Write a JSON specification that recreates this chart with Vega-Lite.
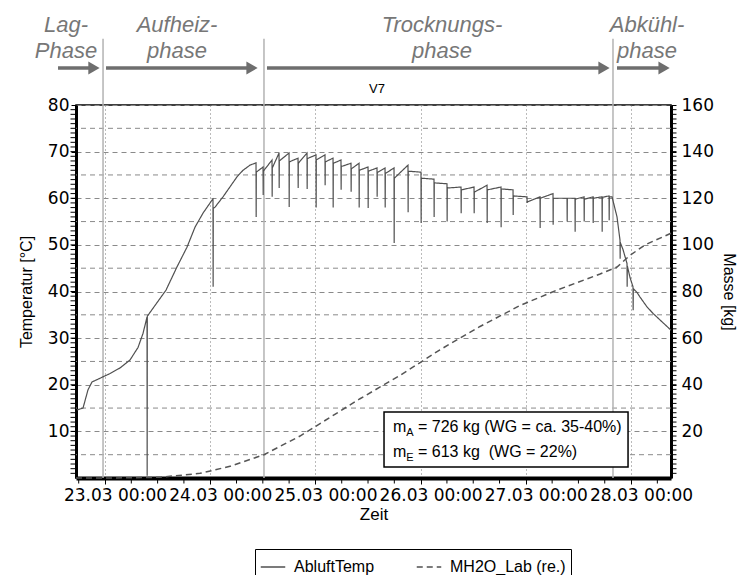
{
  "$schema": "https://vega.github.io/schema/vega-lite/v6.json",
  "width": 595,
  "height": 373,
  "autosize": {"type": "none"},
  "padding": {"left": 76, "top": 105, "right": 70, "bottom": 97},
  "background": "white",
  "datasets": {
    "temp": [
      {"Zeit": "2010-03-22T17:37", "AbluftTemp": 14.6},
      {"Zeit": "2010-03-22T18:59", "AbluftTemp": 15.0},
      {"Zeit": "2010-03-22T20:07", "AbluftTemp": 18.9},
      {"Zeit": "2010-03-22T21:02", "AbluftTemp": 20.6},
      {"Zeit": "2010-03-22T22:52", "AbluftTemp": 21.4},
      {"Zeit": "2010-03-23T01:08", "AbluftTemp": 22.4},
      {"Zeit": "2010-03-23T03:25", "AbluftTemp": 23.6},
      {"Zeit": "2010-03-23T05:42", "AbluftTemp": 25.3},
      {"Zeit": "2010-03-23T07:32", "AbluftTemp": 28.0},
      {"Zeit": "2010-03-23T08:40", "AbluftTemp": 31.0},
      {"Zeit": "2010-03-23T09:35", "AbluftTemp": 34.5},
      {"Zeit": "2010-03-23T09:37", "AbluftTemp": 0.5},
      {"Zeit": "2010-03-23T09:39", "AbluftTemp": 34.7},
      {"Zeit": "2010-03-23T11:24", "AbluftTemp": 37.0},
      {"Zeit": "2010-03-23T13:55", "AbluftTemp": 40.3},
      {"Zeit": "2010-03-23T16:26", "AbluftTemp": 45.3},
      {"Zeit": "2010-03-23T18:42", "AbluftTemp": 49.5},
      {"Zeit": "2010-03-23T20:32", "AbluftTemp": 53.8},
      {"Zeit": "2010-03-23T22:21", "AbluftTemp": 56.8},
      {"Zeit": "2010-03-24T00:25", "AbluftTemp": 59.6},
      {"Zeit": "2010-03-24T00:38", "AbluftTemp": 59.8},
      {"Zeit": "2010-03-24T00:40", "AbluftTemp": 41.0},
      {"Zeit": "2010-03-24T00:42", "AbluftTemp": 57.8},
      {"Zeit": "2010-03-24T01:06", "AbluftTemp": 58.1},
      {"Zeit": "2010-03-24T02:55", "AbluftTemp": 60.3},
      {"Zeit": "2010-03-24T06:07", "AbluftTemp": 64.6},
      {"Zeit": "2010-03-24T07:29", "AbluftTemp": 66.0},
      {"Zeit": "2010-03-24T09:05", "AbluftTemp": 67.1},
      {"Zeit": "2010-03-24T10:27", "AbluftTemp": 67.6},
      {"Zeit": "2010-03-24T10:29", "AbluftTemp": 56.0},
      {"Zeit": "2010-03-24T10:31", "AbluftTemp": 65.6},
      {"Zeit": "2010-03-24T12:03", "AbluftTemp": 66.7},
      {"Zeit": "2010-03-24T12:05", "AbluftTemp": 60.7},
      {"Zeit": "2010-03-24T12:07", "AbluftTemp": 65.8},
      {"Zeit": "2010-03-24T14:06", "AbluftTemp": 68.2},
      {"Zeit": "2010-03-24T14:08", "AbluftTemp": 60.3},
      {"Zeit": "2010-03-24T14:10", "AbluftTemp": 66.5},
      {"Zeit": "2010-03-24T15:42", "AbluftTemp": 69.7},
      {"Zeit": "2010-03-24T15:44", "AbluftTemp": 62.2},
      {"Zeit": "2010-03-24T15:46", "AbluftTemp": 68.0},
      {"Zeit": "2010-03-24T17:59", "AbluftTemp": 69.7},
      {"Zeit": "2010-03-24T18:01", "AbluftTemp": 58.1},
      {"Zeit": "2010-03-24T18:03", "AbluftTemp": 67.8},
      {"Zeit": "2010-03-24T20:02", "AbluftTemp": 68.6},
      {"Zeit": "2010-03-24T20:04", "AbluftTemp": 62.2},
      {"Zeit": "2010-03-24T20:06", "AbluftTemp": 67.5},
      {"Zeit": "2010-03-24T22:05", "AbluftTemp": 69.7},
      {"Zeit": "2010-03-24T22:07", "AbluftTemp": 62.0},
      {"Zeit": "2010-03-24T22:09", "AbluftTemp": 68.5},
      {"Zeit": "2010-03-25T00:08", "AbluftTemp": 69.3},
      {"Zeit": "2010-03-25T00:10", "AbluftTemp": 58.0},
      {"Zeit": "2010-03-25T00:12", "AbluftTemp": 68.2},
      {"Zeit": "2010-03-25T02:11", "AbluftTemp": 69.3},
      {"Zeit": "2010-03-25T02:13", "AbluftTemp": 62.8},
      {"Zeit": "2010-03-25T02:15", "AbluftTemp": 67.8},
      {"Zeit": "2010-03-25T04:01", "AbluftTemp": 68.6},
      {"Zeit": "2010-03-25T04:03", "AbluftTemp": 58.0},
      {"Zeit": "2010-03-25T04:05", "AbluftTemp": 67.5},
      {"Zeit": "2010-03-25T05:50", "AbluftTemp": 68.2},
      {"Zeit": "2010-03-25T05:52", "AbluftTemp": 61.8},
      {"Zeit": "2010-03-25T05:54", "AbluftTemp": 66.8},
      {"Zeit": "2010-03-25T08:07", "AbluftTemp": 67.5},
      {"Zeit": "2010-03-25T08:09", "AbluftTemp": 61.4},
      {"Zeit": "2010-03-25T08:11", "AbluftTemp": 66.3},
      {"Zeit": "2010-03-25T09:57", "AbluftTemp": 67.5},
      {"Zeit": "2010-03-25T09:59", "AbluftTemp": 58.0},
      {"Zeit": "2010-03-25T10:01", "AbluftTemp": 66.0},
      {"Zeit": "2010-03-25T12:00", "AbluftTemp": 66.7},
      {"Zeit": "2010-03-25T12:02", "AbluftTemp": 57.9},
      {"Zeit": "2010-03-25T12:04", "AbluftTemp": 65.8},
      {"Zeit": "2010-03-25T14:03", "AbluftTemp": 66.5},
      {"Zeit": "2010-03-25T14:05", "AbluftTemp": 60.3},
      {"Zeit": "2010-03-25T14:07", "AbluftTemp": 65.5},
      {"Zeit": "2010-03-25T15:53", "AbluftTemp": 66.5},
      {"Zeit": "2010-03-25T15:55", "AbluftTemp": 58.0},
      {"Zeit": "2010-03-25T15:57", "AbluftTemp": 65.3},
      {"Zeit": "2010-03-25T17:56", "AbluftTemp": 66.5},
      {"Zeit": "2010-03-25T17:58", "AbluftTemp": 50.4},
      {"Zeit": "2010-03-25T18:00", "AbluftTemp": 64.3},
      {"Zeit": "2010-03-25T21:07", "AbluftTemp": 67.1},
      {"Zeit": "2010-03-25T21:09", "AbluftTemp": 57.0},
      {"Zeit": "2010-03-25T21:11", "AbluftTemp": 65.8},
      {"Zeit": "2010-03-26T00:05", "AbluftTemp": 65.6},
      {"Zeit": "2010-03-26T00:07", "AbluftTemp": 54.7},
      {"Zeit": "2010-03-26T00:09", "AbluftTemp": 64.3},
      {"Zeit": "2010-03-26T03:03", "AbluftTemp": 64.1},
      {"Zeit": "2010-03-26T03:05", "AbluftTemp": 56.0},
      {"Zeit": "2010-03-26T03:07", "AbluftTemp": 63.3},
      {"Zeit": "2010-03-26T06:01", "AbluftTemp": 63.1},
      {"Zeit": "2010-03-26T06:03", "AbluftTemp": 55.0},
      {"Zeit": "2010-03-26T06:05", "AbluftTemp": 62.2},
      {"Zeit": "2010-03-26T09:13", "AbluftTemp": 62.4},
      {"Zeit": "2010-03-26T09:15", "AbluftTemp": 56.8},
      {"Zeit": "2010-03-26T09:17", "AbluftTemp": 61.8},
      {"Zeit": "2010-03-26T12:11", "AbluftTemp": 62.4},
      {"Zeit": "2010-03-26T12:13", "AbluftTemp": 56.8},
      {"Zeit": "2010-03-26T12:15", "AbluftTemp": 61.3},
      {"Zeit": "2010-03-26T15:09", "AbluftTemp": 62.8},
      {"Zeit": "2010-03-26T15:11", "AbluftTemp": 54.7},
      {"Zeit": "2010-03-26T15:13", "AbluftTemp": 61.8},
      {"Zeit": "2010-03-26T18:20", "AbluftTemp": 62.4},
      {"Zeit": "2010-03-26T18:22", "AbluftTemp": 53.8},
      {"Zeit": "2010-03-26T18:24", "AbluftTemp": 62.0},
      {"Zeit": "2010-03-26T21:05", "AbluftTemp": 61.8},
      {"Zeit": "2010-03-26T21:07", "AbluftTemp": 56.4},
      {"Zeit": "2010-03-26T21:09", "AbluftTemp": 60.5},
      {"Zeit": "2010-03-27T00:16", "AbluftTemp": 60.3},
      {"Zeit": "2010-03-27T00:18", "AbluftTemp": 59.0},
      {"Zeit": "2010-03-27T00:20", "AbluftTemp": 59.2},
      {"Zeit": "2010-03-27T03:14", "AbluftTemp": 60.3},
      {"Zeit": "2010-03-27T03:16", "AbluftTemp": 53.6},
      {"Zeit": "2010-03-27T03:18", "AbluftTemp": 60.0},
      {"Zeit": "2010-03-27T06:12", "AbluftTemp": 61.0},
      {"Zeit": "2010-03-27T06:14", "AbluftTemp": 54.3},
      {"Zeit": "2010-03-27T06:16", "AbluftTemp": 60.0},
      {"Zeit": "2010-03-27T09:24", "AbluftTemp": 60.0},
      {"Zeit": "2010-03-27T09:26", "AbluftTemp": 55.0},
      {"Zeit": "2010-03-27T09:28", "AbluftTemp": 60.0},
      {"Zeit": "2010-03-27T11:13", "AbluftTemp": 60.0},
      {"Zeit": "2010-03-27T11:15", "AbluftTemp": 52.8},
      {"Zeit": "2010-03-27T11:17", "AbluftTemp": 59.8},
      {"Zeit": "2010-03-27T13:17", "AbluftTemp": 60.3},
      {"Zeit": "2010-03-27T13:19", "AbluftTemp": 55.0},
      {"Zeit": "2010-03-27T13:21", "AbluftTemp": 59.8},
      {"Zeit": "2010-03-27T15:20", "AbluftTemp": 60.3},
      {"Zeit": "2010-03-27T15:22", "AbluftTemp": 54.7},
      {"Zeit": "2010-03-27T15:24", "AbluftTemp": 60.0},
      {"Zeit": "2010-03-27T17:23", "AbluftTemp": 60.3},
      {"Zeit": "2010-03-27T17:25", "AbluftTemp": 52.8},
      {"Zeit": "2010-03-27T17:27", "AbluftTemp": 60.2},
      {"Zeit": "2010-03-27T18:59", "AbluftTemp": 60.5},
      {"Zeit": "2010-03-27T19:01", "AbluftTemp": 55.3},
      {"Zeit": "2010-03-27T19:03", "AbluftTemp": 60.3},
      {"Zeit": "2010-03-27T19:40", "AbluftTemp": 60.3},
      {"Zeit": "2010-03-27T20:48", "AbluftTemp": 56.0},
      {"Zeit": "2010-03-27T21:29", "AbluftTemp": 51.0},
      {"Zeit": "2010-03-27T21:31", "AbluftTemp": 47.0},
      {"Zeit": "2010-03-27T21:33", "AbluftTemp": 50.5},
      {"Zeit": "2010-03-27T22:10", "AbluftTemp": 49.0},
      {"Zeit": "2010-03-27T23:05", "AbluftTemp": 46.0},
      {"Zeit": "2010-03-27T23:07", "AbluftTemp": 41.0},
      {"Zeit": "2010-03-27T23:09", "AbluftTemp": 45.5},
      {"Zeit": "2010-03-27T23:46", "AbluftTemp": 43.0},
      {"Zeit": "2010-03-28T00:27", "AbluftTemp": 41.0},
      {"Zeit": "2010-03-28T00:29", "AbluftTemp": 36.0},
      {"Zeit": "2010-03-28T00:31", "AbluftTemp": 40.6},
      {"Zeit": "2010-03-28T01:22", "AbluftTemp": 39.8},
      {"Zeit": "2010-03-28T02:03", "AbluftTemp": 38.8},
      {"Zeit": "2010-03-28T03:39", "AbluftTemp": 36.7},
      {"Zeit": "2010-03-28T05:01", "AbluftTemp": 35.3},
      {"Zeit": "2010-03-28T07:04", "AbluftTemp": 33.5},
      {"Zeit": "2010-03-28T09:07", "AbluftTemp": 31.7}
    ],
    "masse": [
      {"Zeit": "2010-03-22T17:23", "MH2O": 0},
      {"Zeit": "2010-03-23T01:08", "MH2O": 0},
      {"Zeit": "2010-03-23T12:33", "MH2O": 0.3},
      {"Zeit": "2010-03-23T21:40", "MH2O": 2},
      {"Zeit": "2010-03-24T04:31", "MH2O": 5},
      {"Zeit": "2010-03-24T12:16", "MH2O": 10},
      {"Zeit": "2010-03-24T20:29", "MH2O": 18},
      {"Zeit": "2010-03-25T03:20", "MH2O": 26},
      {"Zeit": "2010-03-25T10:10", "MH2O": 34},
      {"Zeit": "2010-03-25T19:18", "MH2O": 44},
      {"Zeit": "2010-03-26T04:25", "MH2O": 55},
      {"Zeit": "2010-03-26T13:33", "MH2O": 65},
      {"Zeit": "2010-03-26T22:41", "MH2O": 74},
      {"Zeit": "2010-03-27T07:07", "MH2O": 80.6},
      {"Zeit": "2010-03-27T16:56", "MH2O": 87.5},
      {"Zeit": "2010-03-27T20:48", "MH2O": 90.5},
      {"Zeit": "2010-03-27T23:46", "MH2O": 95.5},
      {"Zeit": "2010-03-28T03:12", "MH2O": 100},
      {"Zeit": "2010-03-28T09:07", "MH2O": 105}
    ],
    "phasen": [
      {"Phase": "Lag-\nPhase", "Mitte": "2010-03-22T15:06", "PfeilVon": "2010-03-22T13:17", "PfeilBis": "2010-03-22T21:29"},
      {"Phase": "Aufheiz-\nphase", "Mitte": "2010-03-23T16:26", "PfeilVon": "2010-03-23T00:14", "PfeilBis": "2010-03-24T09:32"},
      {"Phase": "Trocknungs-\nphase", "Mitte": "2010-03-26T04:53", "PfeilVon": "2010-03-24T12:57", "PfeilBis": "2010-03-27T17:50"},
      {"Phase": "Abkühl-\nphase", "Mitte": "2010-03-28T03:39", "PfeilVon": "2010-03-27T20:48", "PfeilBis": "2010-03-28T07:32"}
    ],
    "grenzen": [
      {"Zeit": "2010-03-22T23:33"},
      {"Zeit": "2010-03-24T12:16"},
      {"Zeit": "2010-03-27T19:53"}
    ],
    "zwischenlinien": [
      {"T": 5}, {"T": 15}, {"T": 25}, {"T": 35}, {"T": 45}, {"T": 55}, {"T": 65}, {"T": 75}
    ],
    "teilstriche": [
      {"T": 1}, {"T": 2}, {"T": 3}, {"T": 4}, {"T": 5}, {"T": 6}, {"T": 7}, {"T": 8}, {"T": 9}, {"T": 10},
      {"T": 11}, {"T": 12}, {"T": 13}, {"T": 14}, {"T": 15}, {"T": 16}, {"T": 17}, {"T": 18}, {"T": 19}, {"T": 20},
      {"T": 21}, {"T": 22}, {"T": 23}, {"T": 24}, {"T": 25}, {"T": 26}, {"T": 27}, {"T": 28}, {"T": 29}, {"T": 30},
      {"T": 31}, {"T": 32}, {"T": 33}, {"T": 34}, {"T": 35}, {"T": 36}, {"T": 37}, {"T": 38}, {"T": 39}, {"T": 40},
      {"T": 41}, {"T": 42}, {"T": 43}, {"T": 44}, {"T": 45}, {"T": 46}, {"T": 47}, {"T": 48}, {"T": 49}, {"T": 50},
      {"T": 51}, {"T": 52}, {"T": 53}, {"T": 54}, {"T": 55}, {"T": 56}, {"T": 57}, {"T": 58}, {"T": 59}, {"T": 60},
      {"T": 61}, {"T": 62}, {"T": 63}, {"T": 64}, {"T": 65}, {"T": 66}, {"T": 67}, {"T": 68}, {"T": 69}, {"T": 70},
      {"T": 71}, {"T": 72}, {"T": 73}, {"T": 74}, {"T": 75}, {"T": 76}, {"T": 77}, {"T": 78}, {"T": 79}
    ],
    "zeitstriche": [
      {"Zeit": "2010-03-22T18:00"}, {"Zeit": "2010-03-23T06:00"}, {"Zeit": "2010-03-23T12:00"}, {"Zeit": "2010-03-23T18:00"},
      {"Zeit": "2010-03-24T06:00"}, {"Zeit": "2010-03-24T12:00"}, {"Zeit": "2010-03-24T18:00"},
      {"Zeit": "2010-03-25T06:00"}, {"Zeit": "2010-03-25T12:00"}, {"Zeit": "2010-03-25T18:00"},
      {"Zeit": "2010-03-26T06:00"}, {"Zeit": "2010-03-26T12:00"}, {"Zeit": "2010-03-26T18:00"},
      {"Zeit": "2010-03-27T06:00"}, {"Zeit": "2010-03-27T12:00"}, {"Zeit": "2010-03-27T18:00"},
      {"Zeit": "2010-03-28T06:00"}
    ]
  },
  "resolve": {"scale": {"y": "independent"}},
  "layer": [
    {
      "layer": [
        {
          "data": {"name": "zwischenlinien"},
          "mark": {"type": "rule", "color": "#8a8a8a", "strokeWidth": 1, "strokeDash": [5, 4]},
          "encoding": {
            "y": {"field": "T", "type": "quantitative"}
          }
        },
        {
          "data": {"name": "grenzen"},
          "mark": {"type": "rule", "color": "#b3b3b3", "strokeWidth": 1.5},
          "encoding": {
            "x": {"field": "Zeit", "type": "temporal"},
            "y": {"datum": 94.2, "type": "quantitative"},
            "y2": {"datum": 0}
          }
        },
        {
          "data": {"name": "temp"},
          "mark": {"type": "line", "color": "#505050", "strokeWidth": 1.2},
          "encoding": {
            "x": {
              "field": "Zeit", "type": "temporal",
              "scale": {"domain": [
                {"year": 2010, "month": 3, "date": 22, "hours": 17, "minutes": 23},
                {"year": 2010, "month": 3, "date": 28, "hours": 9, "minutes": 7}
              ]},
              "axis": {
                "title": "Zeit", "format": "%d.%m %H:%M",
                "tickCount": {"interval": "day", "step": 1},
                "labelOverlap": false, "labelFlush": false, "labelBound": false,
                "labelFont": "DejaVu Sans", "labelFontSize": 17, "labelOffset": 10, "labelPadding": 3,
                "titleFontSize": 17, "titleFontWeight": "normal", "titlePadding": 3,
                "grid": true, "gridDash": [1, 3], "gridColor": "#777", "gridWidth": 1,
                "domainWidth": 4, "domainColor": "black", "tickColor": "black", "tickSize": 6,
                "labelColor": "black", "titleColor": "black", "zindex": 0
              }
            },
            "y": {
              "field": "AbluftTemp", "type": "quantitative",
              "scale": {"domain": [0, 80], "nice": false},
              "axis": {
                "orient": "left", "title": "Temperatur [°C]",
                "values": [10, 20, 30, 40, 50, 60, 70, 80],
                "grid": true, "gridDash": [5, 4], "gridColor": "#8a8a8a", "gridWidth": 1,
                "labelFont": "DejaVu Sans", "labelFontSize": 17, "labelPadding": 2, "labelColor": "black",
                "titleFontSize": 16, "titleFontWeight": "normal", "titleColor": "black", "titlePadding": 13,
                "domainWidth": 3, "domainColor": "black", "tickColor": "black", "tickSize": 5, "zindex": 0
              }
            },
            "strokeDash": {"datum": "AbluftTemp", "type": "nominal"}
          }
        },
        {
          "data": {"name": "teilstriche"},
          "mark": {"type": "tick", "orient": "horizontal", "size": 5, "thickness": 1, "color": "black", "opacity": 1, "xOffset": -3},
          "encoding": {
            "x": {"datum": {"year": 2010, "month": 3, "date": 22, "hours": 17, "minutes": 23}, "type": "temporal"},
            "y": {"field": "T", "type": "quantitative"}
          }
        },
        {
          "data": {"name": "teilstriche"},
          "mark": {"type": "tick", "orient": "horizontal", "size": 5, "thickness": 1, "color": "black", "opacity": 1, "xOffset": 3},
          "encoding": {
            "x": {"datum": {"year": 2010, "month": 3, "date": 28, "hours": 9, "minutes": 7}, "type": "temporal"},
            "y": {"field": "T", "type": "quantitative"}
          }
        },
        {
          "data": {"name": "zeitstriche"},
          "mark": {"type": "tick", "orient": "vertical", "size": 5, "thickness": 1, "color": "black", "opacity": 1, "yOffset": 3},
          "encoding": {
            "x": {"field": "Zeit", "type": "temporal"},
            "y": {"datum": 0, "type": "quantitative"}
          }
        },
        {
          "data": {"name": "phasen"},
          "mark": {"type": "rule", "color": "#6e6e6e", "strokeWidth": 3.5},
          "encoding": {
            "x": {"field": "PfeilVon", "type": "temporal"},
            "x2": {"field": "PfeilBis"},
            "y": {"datum": 87.94, "type": "quantitative"}
          }
        },
        {
          "data": {"name": "phasen"},
          "mark": {"type": "point", "shape": "triangle-right", "filled": true, "size": 170, "color": "#6e6e6e", "opacity": 1},
          "encoding": {
            "x": {"field": "PfeilBis", "type": "temporal"},
            "y": {"datum": 87.94, "type": "quantitative"}
          }
        },
        {
          "data": {"name": "phasen"},
          "mark": {"type": "text", "fontSize": 22, "fontStyle": "italic", "color": "#777777", "align": "center", "baseline": "alphabetic", "lineBreak": "\n", "lineHeight": 26},
          "encoding": {
            "x": {"field": "Mitte", "type": "temporal"},
            "y": {"datum": 95.66, "type": "quantitative"},
            "text": {"field": "Phase", "type": "nominal"}
          }
        },
        {
          "data": {"values": [{"Versuch": "V7"}]},
          "mark": {"type": "text", "fontSize": 13, "align": "center", "baseline": "alphabetic", "color": "black"},
          "encoding": {
            "x": {"datum": {"year": 2010, "month": 3, "date": 25, "hours": 14, "minutes": 3}, "type": "temporal"},
            "y": {"datum": 82.6, "type": "quantitative"},
            "text": {"field": "Versuch", "type": "nominal"}
          }
        },
        {
          "data": {"values": [{}]},
          "mark": {"type": "rect", "fill": "white", "stroke": "black", "strokeWidth": 1.5},
          "encoding": {
            "x": {"datum": {"year": 2010, "month": 3, "date": 25, "hours": 15, "minutes": 39}, "type": "temporal"},
            "x2": {"datum": {"year": 2010, "month": 3, "date": 27, "hours": 23, "minutes": 19}},
            "y": {"datum": 14.16, "type": "quantitative"},
            "y2": {"datum": 2.36}
          }
        },
        {
          "data": {"values": [{"t": "m", "zeile": 9.87}, {"t": "m", "zeile": 4.5}]},
          "mark": {"type": "text", "fontSize": 16, "align": "left", "baseline": "alphabetic", "color": "black"},
          "encoding": {
            "x": {"datum": {"year": 2010, "month": 3, "date": 25, "hours": 17, "minutes": 42}, "type": "temporal"},
            "y": {"field": "zeile", "type": "quantitative"},
            "text": {"field": "t"}
          }
        },
        {
          "data": {"values": [{"t": "A", "zeile": 9.87}, {"t": "E", "zeile": 4.5}]},
          "mark": {"type": "text", "fontSize": 11, "align": "left", "baseline": "alphabetic", "color": "black", "dx": 13.3, "dy": 4},
          "encoding": {
            "x": {"datum": {"year": 2010, "month": 3, "date": 25, "hours": 17, "minutes": 42}, "type": "temporal"},
            "y": {"field": "zeile", "type": "quantitative"},
            "text": {"field": "t"}
          }
        },
        {
          "data": {"values": [{"t": "= 726 kg (WG = ca. 35-40%)", "zeile": 9.87}, {"t": "= 613 kg\u00a0 (WG = 22%)", "zeile": 4.5}]},
          "mark": {"type": "text", "fontSize": 16, "align": "left", "baseline": "alphabetic", "color": "black", "dx": 25},
          "encoding": {
            "x": {"datum": {"year": 2010, "month": 3, "date": 25, "hours": 17, "minutes": 42}, "type": "temporal"},
            "y": {"field": "zeile", "type": "quantitative"},
            "text": {"field": "t"}
          }
        }
      ]
    },
    {
      "data": {"name": "masse"},
      "mark": {"type": "line", "color": "#555555", "strokeWidth": 1.5},
      "encoding": {
        "x": {"field": "Zeit", "type": "temporal"},
        "y": {
          "field": "MH2O", "type": "quantitative",
          "scale": {"domain": [0, 160], "nice": false},
          "axis": {
            "orient": "right", "title": "Masse [kg]",
            "values": [20, 40, 60, 80, 100, 120, 140, 160],
            "grid": false,
            "labelFont": "DejaVu Sans", "labelFontSize": 17, "labelPadding": 5, "labelColor": "black",
            "titleFontSize": 16, "titleFontWeight": "normal", "titleColor": "black", "titlePadding": 7,
            "domainWidth": 3, "domainColor": "black", "tickColor": "black", "tickSize": 5, "zindex": 0
          }
        },
        "strokeDash": {
          "datum": "MH2O_Lab (re.)", "type": "nominal",
          "scale": {"domain": ["AbluftTemp", "MH2O_Lab (re.)"], "range": [[1, 0], [6, 4]]},
          "legend": {
            "title": null, "orient": "none", "legendX": 179, "legendY": 444, "direction": "horizontal",
            "strokeColor": "black", "fillColor": "white", "padding": 5,
            "labelFontSize": 16, "labelColor": "black", "labelOffset": 8,
            "symbolType": "stroke", "symbolSize": 600, "symbolStrokeWidth": 1.5, "symbolStrokeColor": "#444",
            "columnPadding": 38
          }
        }
      }
    }
  ],
  "config": {
    "font": "Liberation Sans",
    "view": {"stroke": "black", "strokeWidth": 1.5}
  }
}
